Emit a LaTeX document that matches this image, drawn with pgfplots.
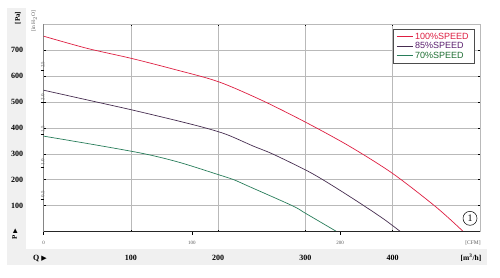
\documentclass[border=0pt]{standalone}
\usepackage{pgfplots}
\pgfplotsset{compat=1.18}
\usepackage{fontspec}
\setmainfont{Liberation Serif}
\newfontfamily\sansf{Liberation Sans}
\newfontfamily\symf{DejaVu Sans}
\definecolor{cred}{RGB}{222,30,65}
\definecolor{cpurpleline}{RGB}{70,45,80}
\definecolor{cpurpletext}{RGB}{90,30,110}
\definecolor{cgreenline}{RGB}{40,125,90}
\definecolor{cgreentext}{RGB}{30,110,50}
\definecolor{panel}{RGB}{240,240,240}
\begin{document}
\begin{tikzpicture}[x=1pt,y=1pt]
\path[use as bounding box] (0,0) rectangle (500,277);
\fill[panel] (7,12) rectangle (26,269);
\fill[panel] (7,12) rectangle (487,28);
\begin{axis}[
  at={(43.7pt,45.3pt)}, anchor=south west,
  scale only axis, width=436.3pt, height=207.7pt,
  xmin=0, xmax=500, ymin=0, ymax=800,
  /pgf/number format/assume math mode=true,
  xtick={100,200,300,400}, ytick={100,200,300,400,500,600,700},
  grid=major, grid style={gray!55, line width=0.6pt},
  axis line style={gray!55, line width=0.6pt},
  tick align=inside, major tick length=2pt,
  tick style={black, line width=0.6pt},
  xticklabel style={font=\bfseries\fontsize{8}{9}\selectfont, yshift=-20pt},
  yticklabel style={font=\bfseries\fontsize{8}{9}\selectfont, xshift=-17pt},
  legend cell align=left,
  legend style={at={(1,1)}, anchor=north east, xshift=-6pt, yshift=-5pt,
    draw=gray!60!black, line width=0.5pt, inner xsep=3pt, inner ysep=1.5pt,
    font=\sansf\fontsize{9}{10}\selectfont, row sep=-2.2pt},
  legend image code/.code={\draw[#1] (0pt,0pt) -- (16pt,0pt);},
]
\addplot[cred, line width=0.7pt, smooth, tension=0.5] coordinates {
(0,753) (50,706) (100,668) (150,625) (200,578) (250,506) (300,422)
(350,330) (400,224) (450,94) (481,0)};
\addlegendentry{\textcolor{cred}{100\%SPEED}}
\addplot[cpurpleline, line width=0.7pt, smooth, tension=0.5] coordinates {
(0,545) (60,500) (100,470) (150,430) (185,400) (210,374) (240,330) (262,300)
(300,238) (320,200) (343,152) (367,100) (390,48) (409,0)};
\addlegendentry{\textcolor{cpurpletext}{85\%SPEED}}
\addplot[cgreenline, line width=0.7pt, smooth, tension=0.5] coordinates {
(0,368) (60,334) (115.6,300) (155.6,267) (200,220) (218,200) (235.5,174)
(285,100) (300,71) (336,0)};
\addlegendentry{\textcolor{cgreentext}{70\%SPEED}}
\draw[gray!30!black, line width=0.6pt] (rel axis cs:0,1) -- (rel axis cs:0,0) -- (rel axis cs:1,0);
\end{axis}
\begin{axis}[
  at={(43.7pt,45.3pt)}, anchor=south west,
  scale only axis, width=436.3pt, height=207.7pt,
  xmin=0, xmax=294.29, ymin=0, ymax=3.2117,
  /pgf/number format/assume math mode=true,
  axis line style={draw=none},
  xtick={0,100,200}, ytick={0.5,1,1.5,2,2.5},
  yticklabels={0.5,1.0,1.5,2.0,2.5},
  tick align=outside, major tick length=3pt,
  tick style={black, line width=0.5pt},
  xtick pos=bottom, ytick pos=left,
  xticklabel style={font=\fontsize{5}{6}\selectfont, text=gray!70!black, yshift=-3pt},
  yticklabel style={font=\fontsize{5}{6}\selectfont, text=gray!70!black, rotate=90, anchor=west, xshift=-1.5pt, yshift=-2pt},
]
\end{axis}
\node[rotate=90, font=\bfseries\fontsize{7}{8}\selectfont] at (18,259) {[Pa]};
\node[rotate=90, font=\fontsize{5.5}{6}\selectfont, text=gray!70!black] at (34,256) {[in H$_2$O]};
\node[rotate=90, font=\bfseries\fontsize{7}{8}\selectfont] at (15,43) {P {\symf\fontsize{6}{7}\selectfont ▶}};
\node[font=\bfseries\fontsize{8}{9}\selectfont] at (40,19) {Q {\symf\fontsize{7}{8}\selectfont ▶}};
\node[font=\bfseries\fontsize{7.5}{8}\selectfont] at (471,19) {[m\textsuperscript{3}/h]};
\node[font=\fontsize{5.5}{6}\selectfont, text=gray!70!black] at (473,34) {[CFM]};
\node[draw, circle, inner sep=0.8pt, minimum size=14pt, line width=0.5pt, font=\fontsize{10}{11}\selectfont] at (470,58.7) {1};
\end{tikzpicture}
\end{document}
